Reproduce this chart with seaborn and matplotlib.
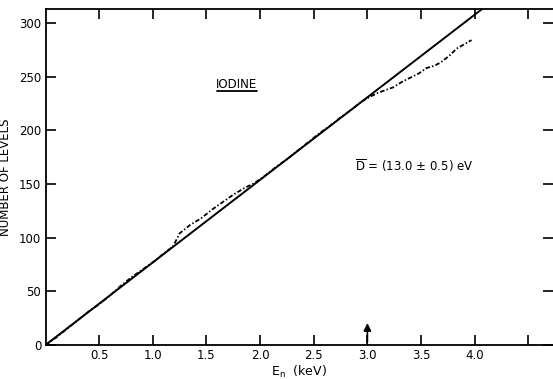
import matplotlib
matplotlib.use("Agg")
import matplotlib.pyplot as plt
import seaborn as sns
import numpy as np
import pandas as pd

# Cumulative number of levels vs neutron energy
energy_kev = [0.0, 0.1, 0.2, 0.3, 0.4, 0.5, 0.6, 0.7, 0.8, 0.9, 1.0, 1.1, 1.19,
              1.25, 1.35, 1.45, 1.55, 1.65, 1.75, 1.85, 1.95, 2.05, 2.15, 2.25,
              2.35, 2.45, 2.55, 2.65, 2.75, 2.85, 2.95, 3.02, 3.10, 3.24, 3.32,
              3.40, 3.48, 3.55, 3.62, 3.68, 3.77, 3.83, 3.90, 3.97]
levels = [0, 7, 15, 23, 31, 38, 46, 55, 63, 70, 77, 85, 92,
          104, 112, 118, 126, 133, 140, 146, 151, 158, 166, 173,
          181, 189, 197, 204, 212, 219, 227, 231, 235, 240, 245,
          249, 253, 258, 260, 263, 270, 276, 280, 284]

# Mean spacing fit line: N = E / D
mean_spacing_ev = 13.0
fit_energy = [0.0, 4.3]
fit_levels = [e * 1000.0 / mean_spacing_ev for e in fit_energy]

x_ticks = [0.5, 1.0, 1.5, 2.0, 2.5, 3.0, 3.5, 4.0, 4.5]
x_tick_labels = ["0.5", "1.0", "1.5", "2.0", "2.5", "3.0", "3.5", "4.0", ""]
y_ticks = [0, 50, 100, 150, 200, 250, 300]
y_tick_labels = ["0", "50", "100", "150", "200", "250", "300"]

sns.set_theme(style="ticks")
plt.rcParams['font.family'] = ['DejaVu Sans']
plt.rcParams['mathtext.fontset'] = 'dejavusans'
plt.rcParams['text.color'] = 'black'
plt.rcParams['axes.labelcolor'] = 'black'

fig = plt.figure(figsize=(5.53, 3.79), dpi=100)
ax = fig.add_axes([45.5 / 553, 34 / 379, (553 - 45.5) / 553, (345 - 9) / 379])

df = pd.DataFrame({"E": energy_kev, "N": levels})
fit_df = pd.DataFrame({"E": fit_energy, "N": fit_levels})

sns.lineplot(data=fit_df, x="E", y="N", ax=ax, color="black", linewidth=1.4)
sns.lineplot(data=df, x="E", y="N", ax=ax, color="black", linewidth=1.3,
             linestyle=(0, (2.5, 1.2, 0.8, 1.2)))

ax.set_xlim(0, (553 - 45.5) / 107.3)
ax.set_ylim(0, 313)

ax.set_xticks(x_ticks)
ax.set_xticklabels(x_tick_labels)
ax.set_yticks(y_ticks)
ax.set_yticklabels(y_tick_labels)
ax.tick_params(axis="both", which="both", direction="in", length=7, width=1.2,
               top=True, right=True, labelsize=8.5, colors="black", pad=3)

for side in ["left", "bottom", "top"]:
    ax.spines[side].set_linewidth(1.3)
    ax.spines[side].set_color("black")
ax.spines["right"].set_visible(False)

ax.set_xlabel(r"E$_\mathrm{n}$  (keV)", fontsize=9, labelpad=1)
ax.set_ylabel("NUMBER OF LEVELS", fontsize=8.5, labelpad=5)

ax.text(1.78, 243, "IODINE", fontsize=8.5, ha="center", va="center")
ax.plot([1.6, 1.97], [237, 237], color="black", linewidth=1.3)

ax.text(2.88, 167, r"$\overline{\mathrm{D}}$ = (13.0 $\pm$ 0.5) eV", fontsize=8.5,
        ha="left", va="center")

ax.annotate("", xy=(3.0, 23), xytext=(3.0, 0),
            arrowprops=dict(arrowstyle="-|>", color="black", lw=1.2,
                            mutation_scale=11))

fig.savefig("out.png", dpi=100)
